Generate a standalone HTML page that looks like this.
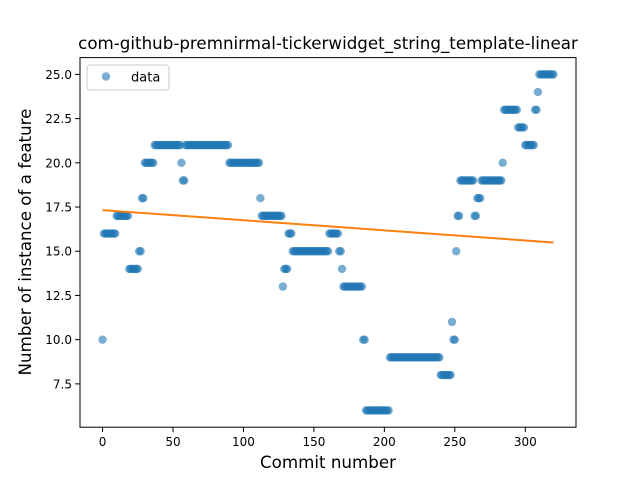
<!DOCTYPE html>
<html><head><meta charset="utf-8"><style>
body{margin:0;background:#fff}
svg text{font-family:"DejaVu Sans","Liberation Sans",sans-serif;fill:#000}
</style></head><body>
<svg id="chart" width="640" height="480" viewBox="0 0 640 480">
<rect width="640" height="480" fill="#fff"/>
<text x="328" y="49" text-anchor="middle" font-size="16.7">com-github-premnirmal-tickerwidget_string_template-linear</text>
<g id="marks"></g>
<g id="axes"></g>
<rect x="80" y="57.6" width="496" height="369.6" fill="none" stroke="#000" stroke-width="1"/>
<text x="328" y="468" text-anchor="middle" font-size="16.7">Commit number</text>
<text transform="translate(31,242) rotate(-90)" text-anchor="middle" font-size="16.7">Number of instance of a feature</text>
<g>
<rect x="87" y="65" width="82" height="25" rx="3" fill="#fff" stroke="#ccc"/>
<circle cx="106" cy="76.5" r="4.2" fill="#1f77b4" fill-opacity="0.6"/>
<text x="131" y="81.5" font-size="13">data</text>
</g>
</svg>
<script>
const runValues=[10,16,17,14,15,18,20,21,20,19,21,20,18,17,13,14,16,15,16,15,14,13,10,6,9,8,11,10,15,17,19,17,18,19,20,23,22,21,23,24,25];
const runCounts=[1,9,9,7,2,2,7,19,1,2,31,22,1,15,1,3,3,26,7,2,1,14,2,17,36,8,1,2,1,2,10,2,3,15,1,10,5,7,2,1,11];
const xTicks=[0,50,100,150,200,250,300];
const yTicks=[7.5,10.0,12.5,15.0,17.5,20.0,22.5,25.0];
const values=[];
for(let i=0;i<runValues.length;i++)for(let k=0;k<runCounts[i];k++)values.push(runValues[i]);
const NS="http://www.w3.org/2000/svg";
const L=80,R=576,T=57.6,B=427.2;
const n=values.length;
const xmin=-(n-1)*0.05,xmax=(n-1)*1.05;
const vmin=Math.min(...values),vmax=Math.max(...values),pad=(vmax-vmin)*0.05;
const ymin=vmin-pad,ymax=vmax+pad;
const sx=v=>L+(v-xmin)/(xmax-xmin)*(R-L);
const sy=v=>B-(v-ymin)/(ymax-ymin)*(B-T);
const marks=document.getElementById('marks'),axes=document.getElementById('axes');
values.forEach((v,i)=>{
 const c=document.createElementNS(NS,'circle');
 c.setAttribute('cx',sx(i));c.setAttribute('cy',sy(v));c.setAttribute('r',4.2);
 c.setAttribute('fill','#1f77b4');c.setAttribute('fill-opacity','0.6');
 
 
 marks.appendChild(c);
});
let mx=0,my=0;values.forEach((v,i)=>{mx+=i;my+=v});mx/=n;my/=n;
let num=0,den=0;values.forEach((v,i)=>{num+=(i-mx)*(v-my);den+=(i-mx)*(i-mx)});
const slope=num/den,icpt=my-slope*mx;
const ln=document.createElementNS(NS,'line');
ln.setAttribute('x1',sx(0));ln.setAttribute('y1',sy(icpt));
ln.setAttribute('x2',sx(n-1));ln.setAttribute('y2',sy(icpt+slope*(n-1)));
ln.setAttribute('stroke','#ff7f0e');ln.setAttribute('stroke-width','2');


marks.appendChild(ln);
xTicks.forEach(t=>{
 const l=document.createElementNS(NS,'line');
 l.setAttribute('x1',sx(t));l.setAttribute('x2',sx(t));l.setAttribute('y1',B);l.setAttribute('y2',B+4.9);l.setAttribute('stroke','#000');
 
 
 axes.appendChild(l);
 const tx=document.createElementNS(NS,'text');
 tx.setAttribute('x',sx(t));tx.setAttribute('y',B+19);tx.setAttribute('text-anchor','middle');tx.setAttribute('font-size','12');
 tx.textContent=t;
 
 
 axes.appendChild(tx);
});
yTicks.forEach(t=>{
 const l=document.createElementNS(NS,'line');
 l.setAttribute('x1',L-4.9);l.setAttribute('x2',L);l.setAttribute('y1',sy(t));l.setAttribute('y2',sy(t));l.setAttribute('stroke','#000');
 
 
 axes.appendChild(l);
 const tx=document.createElementNS(NS,'text');
 tx.setAttribute('x',L-8);tx.setAttribute('y',sy(t)+4.5);tx.setAttribute('text-anchor','end');tx.setAttribute('font-size','12');
 tx.textContent=t.toFixed(1);
 
 
 axes.appendChild(tx);
});
</script>
</body></html>
